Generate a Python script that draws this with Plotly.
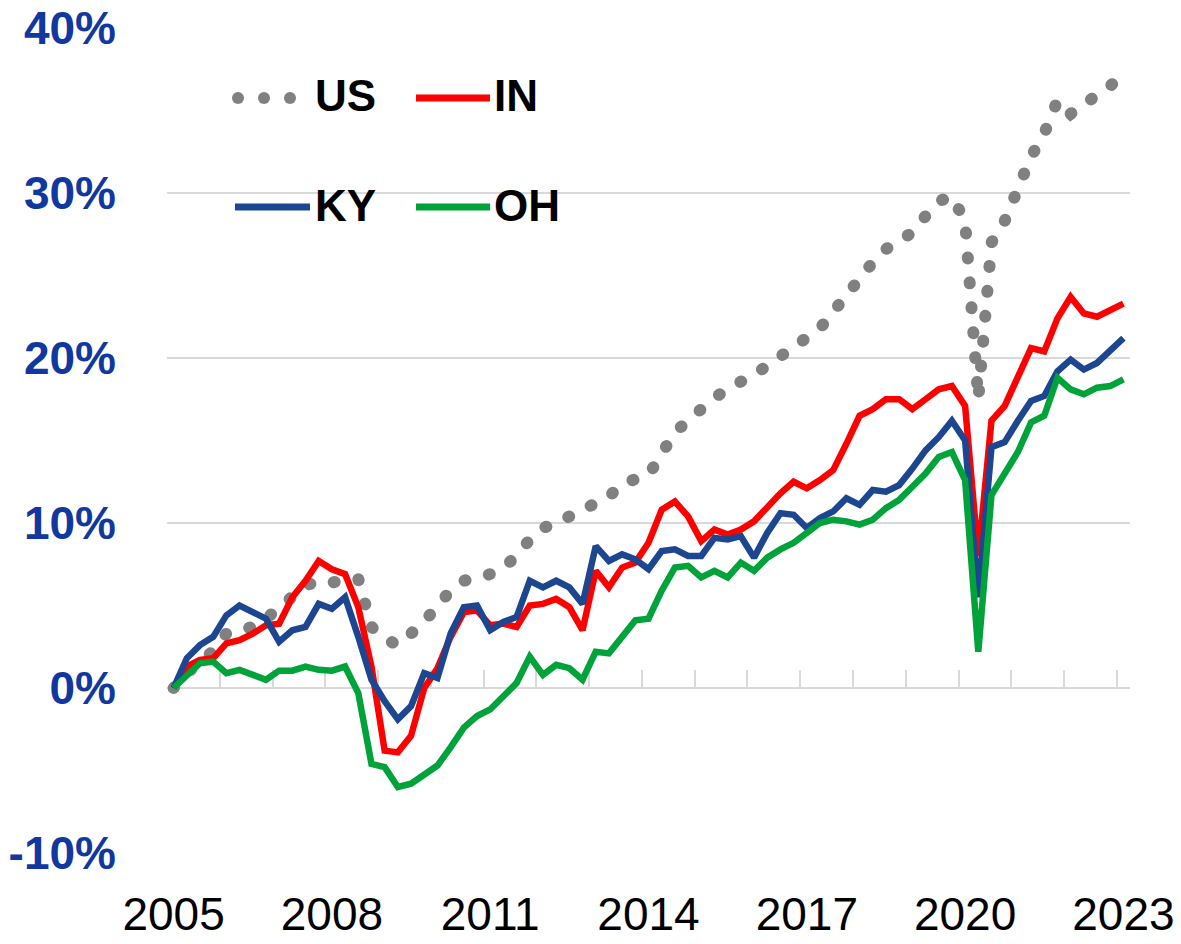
import plotly.graph_objects as go

# Quarterly index 2005Q1 .. 2023Q1 (73 quarters), cumulative growth since 2005Q1 (%)
quarters = list(range(73))
year_ticks = [0, 12, 24, 36, 48, 60, 72]
year_labels = ["2005", "2008", "2011", "2014", "2017", "2020", "2023"]

us = [0, 0.8, 1.7, 2.2, 3.3, 3.5, 3.7, 4.2, 4.8, 5.5, 6.2, 6.5, 6.4, 6.5, 6.6, 3.7,
      3.0, 2.6, 3.2, 4.0, 5.0, 5.9, 6.5, 6.7, 6.9, 7.3, 8.0, 9.0, 9.7, 10.0, 10.4, 10.7,
      11.2, 11.6, 12.4, 12.7, 12.9, 14.2, 15.5, 16.2, 17.0, 17.6, 18.1, 18.5, 18.9, 19.5, 20.1, 20.6,
      21.2, 21.8, 22.8, 23.7, 24.8, 25.8, 26.6, 27.1, 27.6, 28.6, 29.5, 29.8, 28.3, 17.5,
      27.0, 28.3, 30.3, 32.2, 33.6, 35.6, 34.8, 35.3, 35.9, 36.5, 37.1]
ind = [0, 1.3, 1.7, 1.8, 2.7, 2.9, 3.3, 3.8, 3.9, 5.5, 6.5, 7.7, 7.2, 6.9, 4.9, 1.3,
       -3.8, -3.9, -2.9, 0.0, 1.2, 3.1, 4.6, 4.7, 3.8, 3.9, 3.7, 5.0, 5.1, 5.4, 4.9, 3.5,
       7.1, 6.1, 7.3, 7.6, 8.8, 10.8, 11.3, 10.4, 8.9, 9.6, 9.3, 9.6, 10.1, 11.0, 11.8, 12.5,
       12.1, 12.6, 13.2, 14.8, 16.5, 16.9, 17.5, 17.5, 16.9, 17.5, 18.1, 18.3, 17.1, 8.0,
       16.2, 17.1, 18.8, 20.6, 20.4, 22.4, 23.7, 22.7, 22.5, 22.9, 23.3]
ky = [0, 1.8, 2.6, 3.1, 4.4, 5.0, 4.6, 4.2, 2.8, 3.5, 3.7, 5.1, 4.8, 5.5, 3.1, 0.5,
      -0.8, -1.9, -1.1, 0.9, 0.6, 3.3, 4.9, 5.0, 3.5, 4.0, 4.3, 6.5, 6.1, 6.5, 6.1, 5.1,
      8.6, 7.7, 8.1, 7.8, 7.2, 8.3, 8.4, 8.0, 8.0, 9.1, 9.0, 9.2, 7.9, 9.4, 10.6, 10.5,
      9.7, 10.3, 10.7, 11.5, 11.1, 12.0, 11.9, 12.3, 13.3, 14.4, 15.2, 16.2, 15.0, 5.5,
      14.6, 14.9, 16.2, 17.4, 17.7, 19.2, 19.9, 19.3, 19.7, 20.4, 21.2]
oh = [0, 0.8, 1.5, 1.6, 0.9, 1.1, 0.8, 0.5, 1.05, 1.05, 1.3, 1.1, 1.05, 1.3, -0.3, -4.6,
      -4.8, -6.0, -5.8, -5.2, -4.7, -3.6, -2.4, -1.7, -1.3, -0.5, 0.3, 1.9, 0.8, 1.4, 1.2, 0.5,
      2.2, 2.1, 3.1, 4.1, 4.2, 5.9, 7.3, 7.4, 6.7, 7.1, 6.7, 7.6, 7.1, 7.9, 8.4, 8.8,
      9.4, 10.0, 10.2, 10.1, 9.9, 10.2, 10.9, 11.4, 12.2, 13.0, 14.0, 14.3, 12.6, 2.2,
      11.7, 13.0, 14.3, 16.1, 16.5, 18.8, 18.1, 17.8, 18.2, 18.3, 18.7]

y_ticks = [-10, 0, 10, 20, 30, 40]
y_labels = ["-10%", "0%", "10%", "20%", "30%", "40%"]

C_US, C_IN, C_KY, C_OH = "#808080", "#ff0000", "#1c4690", "#00a23a"
FONT = "Liberation Sans, Arial, sans-serif"

fig = go.Figure()
fig.add_trace(go.Scatter(x=quarters, y=us, mode="lines", name="US",
                         line=dict(color=C_US, width=12, dash="1px,24px")))
fig.add_trace(go.Scatter(x=quarters, y=ind, mode="lines", name="IN",
                         line=dict(color=C_IN, width=6.5)))
fig.add_trace(go.Scatter(x=quarters, y=ky, mode="lines", name="KY",
                         line=dict(color=C_KY, width=6.5)))
fig.add_trace(go.Scatter(x=quarters, y=oh, mode="lines", name="OH", xaxis="x2",
                         line=dict(color=C_OH, width=6.5)))

# Figure fills the whole 1181x944 page (body margin removed in post_script).
W, H = 1181, 944
L, R, T, B = 167, 1130, 28, 853

def px(x):
    return (x - L) / (R - L)
def py(y):
    return (B - y) / (B - T)

shapes = []
for cx in (238, 264, 290):
    shapes.append(dict(type="circle", xref="paper", yref="paper",
                       x0=px(cx - 6), x1=px(cx + 6), y0=py(98 + 6), y1=py(98 - 6),
                       fillcolor=C_US, line=dict(width=0)))
for (x0, x1, yy, c) in [(416, 490, 98, C_IN), (235, 310, 207, C_KY), (416, 490, 207, C_OH)]:
    shapes.append(dict(type="line", xref="paper", yref="paper",
                       x0=px(x0), x1=px(x1), y0=py(yy), y1=py(yy),
                       line=dict(color=c, width=7)))

annotations = []
for (tx, ty, t) in [(313, 96, "US"), (492, 96, "IN"), (313, 206, "KY"), (492, 206, "OH")]:
    annotations.append(dict(text=t, xref="paper", yref="paper", x=px(tx), y=py(ty),
                            xanchor="left", yanchor="middle", showarrow=False,
                            font=dict(family=FONT, size=44, color="black", weight="bold")))

fig.update_layout(
    width=W, height=H,
    margin=dict(l=L, r=W - R, t=T, b=H - B, autoexpand=False),
    paper_bgcolor="white", plot_bgcolor="white",
    showlegend=False,
    shapes=shapes, annotations=annotations,
    xaxis=dict(range=[-0.5, 72.5], tickvals=year_ticks, ticktext=year_labels,
               showgrid=False, zeroline=False, showline=False, ticks="",
               automargin=False, ticklabeloverflow="allow",
               tickfont=dict(family=FONT, size=46, color="black"),
               ticklabelstandoff=30),
    xaxis2=dict(overlaying="x", anchor="free", position=0.2, side="bottom",
                range=[-0.5, 72.5], tickvals=[q - 0.5 for q in range(0, 73, 4)],
                ticks="inside", ticklen=17, tickwidth=2, tickcolor="#d9d9d9",
                showline=True, linecolor="#d9d9d9", linewidth=2, layer="below traces",
                showticklabels=False, showgrid=False, zeroline=False, automargin=False),
    yaxis=dict(range=[-10, 40], tickvals=y_ticks, ticktext=y_labels,
               showgrid=True, gridcolor="#d9d9d9", gridwidth=2, zeroline=False,
               showline=False, ticks="", automargin=False, ticklabeloverflow="allow",
               tickfont=dict(family=FONT, size=46, color="#1038a0", weight="bold"),
               ticklabelstandoff=50),
)

post = """
document.body.style.margin = '0';
document.body.style.overflow = 'hidden';
document.querySelectorAll('path.js-line').forEach(function(p){
  if (p.style.stroke === 'rgb(128, 128, 128)') { p.style.strokeLinecap = 'round'; }
});
"""

fig.write_html("out.html", post_script=post, config={"displayModeBar": False})
